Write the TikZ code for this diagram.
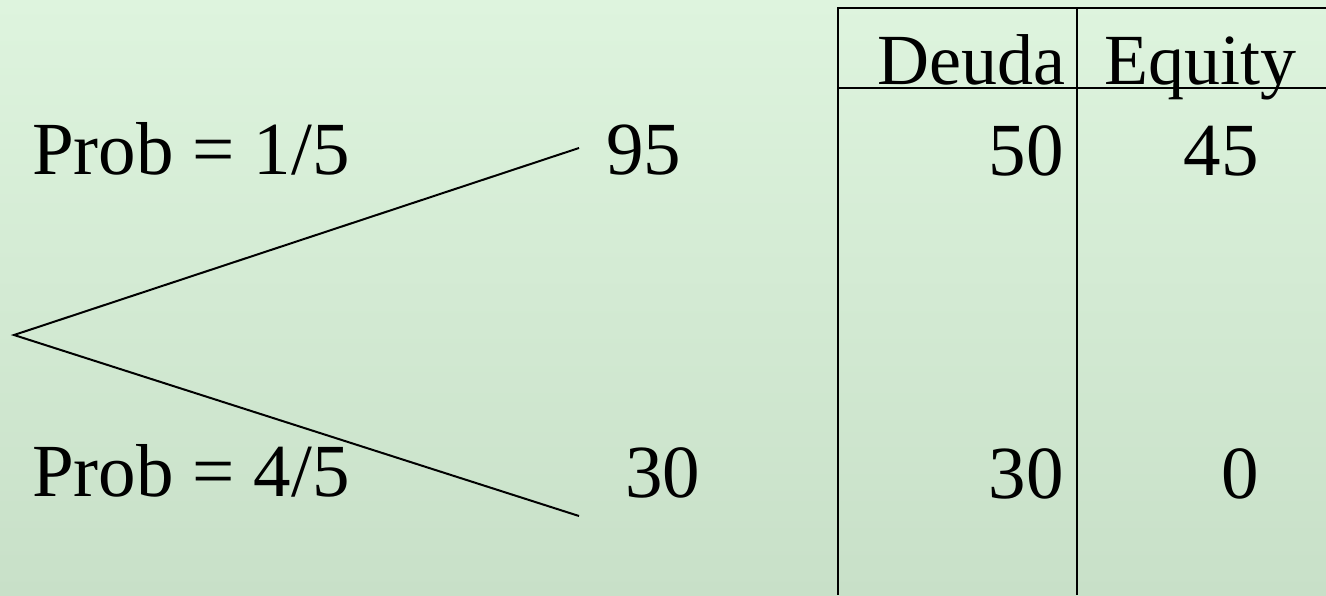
\documentclass[tikz,border=0pt]{standalone}
\usepackage{fontspec}
\setmainfont{Liberation Serif}
\usetikzlibrary{positioning}
\definecolor{trBgTop}{HTML}{DEF4DE}
\definecolor{trBgBottom}{HTML}{C8E0C8}
\definecolor{trInk}{HTML}{000000}

\begin{document}
\begin{tikzpicture}[x=1pt,y=-1pt,
  font=\fontsize{75}{90}\selectfont,text=trInk,
  trlabel/.style={inner sep=0pt,anchor=base west},
  trvalue/.style={inner sep=0pt,anchor=base east},
  trhead/.style={inner sep=0pt,font=\fontsize{72}{86}\selectfont},
  trline/.style={line width=2pt,draw=trInk}]
  % slide background, pixel coordinates measured from the top left corner
  \shade[top color=trBgTop,bottom color=trBgBottom] (0,0) rectangle (1326,595);
  \path[use as bounding box] (0,0) rectangle (1326,595);

  % two-branch tree
  \coordinate (root) at (14,335);
  \coordinate (upEnd) at (579,148);
  \coordinate (downEnd) at (579,516);
  \draw[trline] (upEnd)--(root)--(downEnd);
  \node[trlabel] (probUp) at (32,174) {Prob = 1/5};
  \node[trlabel] (probDown) at (32,496) {Prob = 4/5};
  \node[trlabel] (payUp) at (606,174) {95};
  \node[trlabel] (payDown) at (625,497) {30};

  % payoff table, cut off at the right edge
  \coordinate (tabNW) at (838,8);
  \coordinate (tabNE) at (1326,8);
  \coordinate (tabSW) at (838,595);
  \coordinate (midN) at (1077,8);
  \coordinate (midS) at (1077,595);
  \coordinate (ruleW) at (838,88);
  \coordinate (ruleE) at (1326,88);
  \draw[trline] (tabNE)--(tabNW)--(tabSW);
  \draw[trline] (midN)--(midS);
  \draw[trline] (ruleW)--(ruleE);
  \node[trhead,anchor=base east] (headDeuda) at (1066,84) {Deuda};
  \node[trhead,anchor=base west] (headEquity) at (1104,84) {Equity};
  \foreach \row/\y/\deuda/\equity in {up/175/50/45,down/498/30/0}
    {\node[trvalue] (deuda\row) at (1064,\y) {\deuda};
     \node[trvalue] (equity\row) at (1259,\y) {\equity};}
\end{tikzpicture}
\end{document}
